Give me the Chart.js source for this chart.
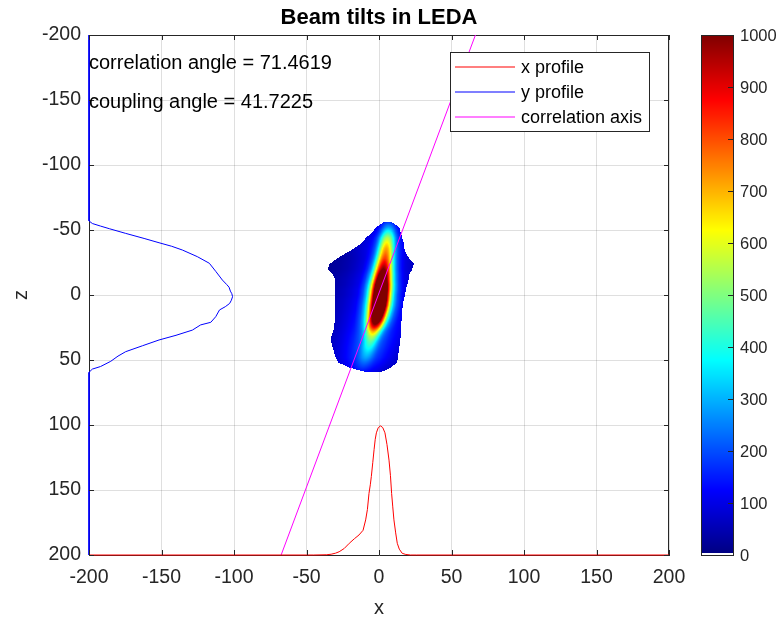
<!DOCTYPE html>
<html><head><meta charset="utf-8">
<script src="https://cdn.jsdelivr.net/npm/chart.js@4.4.0/dist/chart.umd.min.js"></script>
<style>html,body{margin:0;padding:0;background:#fff}#wrap{position:relative;width:782px;height:617px}</style>
</head><body><div id="wrap"><canvas id="c" width="782" height="617"></canvas></div>
<script>
// ---------- data ----------
const titleText = 'Beam tilts in LEDA';
const xAxisLabel = 'x';
const zAxisLabel = 'z';
const xTicks = [-200, -150, -100, -50, 0, 50, 100, 150, 200];
const zTicks = [-200, -150, -100, -50, 0, 50, 100, 150, 200];
const colorbarTicks = [0, 100, 200, 300, 400, 500, 600, 700, 800, 900, 1000];
const annotationLines = ['correlation angle = 71.4619', 'coupling angle = 41.7225'];
const annotationX = [-200, -200];
const annotationZ = [-180, -150];
const seriesNames = ['x profile', 'y profile', 'correlation axis'];
const seriesColors = ['#ff0000', '#0000ff', '#ff00ff'];

// x profile (red): x, z
const xProfileX = [-200, -45, -36, -33, -30, -27.5, -24, -20.5, -17, -13.8, -11, -9.2, -8, -6.9, -6, -5.3, -4.3, -3.4, -2.6, -1.8, -0.5, 1.1, 2.6, 4.1, 5.5, 6.9, 7.9, 8.7, 9.5, 10.3, 11.5, 12.6, 14, 16, 18.5, 21.8, 26, 200];
const xProfileZ = [200, 200, 199.8, 199.4, 198.6, 197.5, 195, 191, 187.5, 184.6, 181, 173, 165, 152.6, 146, 139.7, 129, 119, 111, 106, 102, 100.7, 102, 106, 115, 127, 139, 152.6, 163, 173, 183, 191, 195.5, 198.7, 199.6, 200, 200, 200];

// y profile (blue): x, z
const yProfileX = [-200, -200, -197.7, -192, -186, -174.7, -162, -151.7, -143, -135.6, -125.3, -117, -112.6, -108, -105, -103.4, -102.5, -101.5, -101, -101.8, -103, -106, -110, -112.6, -116, -123, -128.7, -140, -151.7, -163, -174.7, -180, -185, -192, -197.7, -200, -200];
const yProfileZ = [-200, -57, -55, -53, -51, -47.4, -43.5, -40.2, -37.5, -34.6, -29.5, -24.4, -18.2, -11.5, -8, -6, -3, -1, 1.3, 4, 6.5, 9, 11.5, 16.7, 21, 23, 27, 31, 34.6, 39, 43.6, 47, 51, 55, 57, 59.5, 200];

// correlation axis (magenta)
const corrAxisX = [-67.5, 66.5];
const corrAxisZ = [200, -200];

// beam image, one entry per row of z
const beamZ       = [-56, -52, -48, -44, -40, -36, -32, -28, -24, -20, -16, -12, -8, -4, 0, 4, 8, 12, 16, 20, 24, 28, 32, 36, 40, 44, 48, 52, 56, 59];
const beamLeft    = [3, -2, -5, -9, -12, -17, -23, -29, -34, -35.5, -32, -30, -30, -30, -30, -30, -30, -30, -30, -30.5, -31, -31.5, -33, -33, -32, -31, -30, -28, -20, -10];
const beamRight   = [9, 14, 15, 16, 17, 17.5, 18.5, 21, 24, 23, 21, 20.5, 19.5, 18.5, 18, 17, 16.5, 16, 16, 15.5, 15.5, 15, 15, 14.5, 14, 13.5, 13, 12.5, 8, 2];
const ridgeCenter = [6.5, 6.5, 6.2, 5.8, 5.4, 5.0, 4.6, 4.1, 3.6, 3.1, 2.6, 2.1, 1.7, 1.3, 0.9, 0.5, 0, -0.6, -1.3, -2.1, -3, -4, -5, -6, -7, -8, -9, -10, -11, -12];
const ridgeAmp    = [80, 170, 300, 420, 500, 570, 620, 680, 760, 850, 950, 1050, 1150, 1220, 1250, 1250, 1220, 1150, 1050, 920, 720, 500, 350, 260, 200, 150, 110, 70, 40, 20];
const ridgeWidth  = [0.7, 0.7, 0.75, 0.8, 0.8, 0.82, 0.85, 0.88, 0.9, 0.92, 0.95, 0.97, 1, 1, 1, 1, 1, 0.98, 0.95, 0.92, 0.88, 0.82, 0.78, 0.75, 0.75, 0.75, 0.75, 0.75, 0.75, 0.75];
const beamBase    = [40, 35, 30, 30, 30, 30, 25, 20, 20, 20, 25, 30, 30, 35, 35, 40, 40, 40, 40, 40, 40, 40, 40, 40, 40, 40, 40, 35, 30, 30];
const beamHalo    = [60, 80, 90, 100, 110, 115, 120, 125, 130, 135, 140, 140, 145, 150, 150, 155, 160, 165, 170, 170, 170, 170, 170, 165, 160, 150, 140, 125, 105, 85];
// cross-section of the ridge and of the halo (distance from ridge centre -> fraction)
const ridgeProfileD = [0, 1, 2, 3, 4, 5, 6, 7, 8, 9, 10, 12, 14, 16];
const ridgeProfileF = [1, 0.98, 0.93, 0.85, 0.74, 0.61, 0.48, 0.36, 0.26, 0.18, 0.12, 0.05, 0.02, 0];
const haloProfileD = [0, 5, 10, 15, 20, 25, 30, 40];
const haloProfileF = [1, 0.95, 0.8, 0.55, 0.35, 0.2, 0.1, 0];

// ---------- helpers ----------
const FONT = "'Liberation Sans', Arial, Helvetica, sans-serif";
const AX = '#262626';
function pts(xs, ys) { return xs.map((v, i) => ({ x: v, y: ys[i] })); }
function interp(xs, ys, v) {
  if (v <= xs[0]) return ys[0];
  for (let i = 1; i < xs.length; i++) {
    if (v <= xs[i]) { const t = (v - xs[i - 1]) / (xs[i] - xs[i - 1]); return ys[i - 1] + t * (ys[i] - ys[i - 1]); }
  }
  return ys[ys.length - 1];
}
function jet(t) {
  t = Math.max(0, Math.min(1, t));
  const c = v => Math.round(Math.max(0, Math.min(1, v)) * 255);
  return [c(1.5 - Math.abs(4 * t - 3)), c(1.5 - Math.abs(4 * t - 2)), c(1.5 - Math.abs(4 * t - 1))];
}

const beamPlugin = {
  id: 'beam',
  beforeDatasetsDraw(chart) {
    const xs = chart.scales.x, ys = chart.scales.y, cb = chart.scales.cb, ctx = chart.ctx;
    const xMin = Math.min(...beamLeft), xMax = Math.max(...beamRight);
    const px0 = Math.floor(xs.getPixelForValue(xMin)) - 1, px1 = Math.ceil(xs.getPixelForValue(xMax)) + 1;
    const pa = ys.getPixelForValue(beamZ[0]), pb = ys.getPixelForValue(beamZ[beamZ.length - 1]);
    const py0 = Math.floor(Math.min(pa, pb)) - 1, py1 = Math.ceil(Math.max(pa, pb)) + 1;
    const w = px1 - px0, h = py1 - py0;
    const off = document.createElement('canvas'); off.width = w; off.height = h;
    const octx = off.getContext('2d');
    const img = octx.createImageData(w, h);
    const vmax = cb.max;
    for (let j = 0; j < h; j++) {
      const z = ys.getValueForPixel(py0 + j + 0.5);
      if (z < beamZ[0] || z > beamZ[beamZ.length - 1]) continue;
      const L = interp(beamZ, beamLeft, z), R = interp(beamZ, beamRight, z);
      const cx = interp(beamZ, ridgeCenter, z), A = interp(beamZ, ridgeAmp, z), rw = interp(beamZ, ridgeWidth, z);
      const B = interp(beamZ, beamBase, z), H = interp(beamZ, beamHalo, z);
      for (let i = 0; i < w; i++) {
        const x = xs.getValueForPixel(px0 + i + 0.5);
        if (x < L || x > R) continue;
        const d = Math.abs(x - cx);
        const val = B + H * interp(haloProfileD, haloProfileF, d) + A * interp(ridgeProfileD, ridgeProfileF, d / rw);
        const col = jet(val / vmax);
        const k = (j * w + i) * 4;
        img.data[k] = col[0]; img.data[k + 1] = col[1]; img.data[k + 2] = col[2]; img.data[k + 3] = 255;
      }
    }
    octx.putImageData(img, 0, 0);
    ctx.save();
    ctx.drawImage(off, px0, py0);
    // top and right box lines
    const a = chart.chartArea;
    ctx.strokeStyle = AX; ctx.lineWidth = 1;
    ctx.beginPath();
    ctx.moveTo(a.left, Math.round(a.top) + 0.5); ctx.lineTo(a.right, Math.round(a.top) + 0.5);
    ctx.moveTo(Math.round(a.right) - 0.5, a.top); ctx.lineTo(Math.round(a.right) - 0.5, a.bottom);
    ctx.stroke();
    ctx.restore();
  },
  afterDatasetsDraw(chart) {
    const xs = chart.scales.x, ys = chart.scales.y, ctx = chart.ctx, a = chart.chartArea;
    ctx.save();
    ctx.strokeStyle = AX; ctx.lineWidth = 1;
    ctx.beginPath();
    xTicks.forEach(v => {
      const p = Math.round(xs.getPixelForValue(v)) + 0.5;
      ctx.moveTo(p, a.bottom); ctx.lineTo(p, a.bottom - 5);
      ctx.moveTo(p, a.top); ctx.lineTo(p, a.top + 5);
    });
    zTicks.forEach(v => {
      const p = Math.round(ys.getPixelForValue(v)) + 0.5;
      ctx.moveTo(a.left, p); ctx.lineTo(a.left + 5, p);
      ctx.moveTo(a.right, p); ctx.lineTo(a.right - 5, p);
    });
    ctx.stroke();
    // annotations
    ctx.fillStyle = '#000';
    ctx.font = '20px ' + FONT;
    ctx.textAlign = 'left'; ctx.textBaseline = 'middle';
    annotationLines.forEach((t, i) => ctx.fillText(t, xs.getPixelForValue(annotationX[i]), ys.getPixelForValue(annotationZ[i]) + 2));
    // legend
    const bx0 = a.right - 219, by0 = a.top + 17, bw = 199, bh = 79;
    ctx.fillStyle = '#fff';
    ctx.fillRect(bx0, by0, bw, bh);
    ctx.strokeStyle = AX;
    ctx.strokeRect(Math.round(bx0) + 0.5, Math.round(by0) + 0.5, bw, bh);
    ctx.font = '18px ' + FONT;
    seriesNames.forEach((name, i) => {
      const y = Math.round(by0 + 15 + i * 25.2);
      ctx.beginPath();
      ctx.strokeStyle = seriesColors[i]; ctx.lineWidth = 1.2;
      ctx.moveTo(bx0 + 5, y); ctx.lineTo(bx0 + 65, y);
      ctx.stroke();
      ctx.fillStyle = '#000';
      ctx.fillText(name, bx0 + 71, y + 1);
    });
    ctx.restore();
  },
  afterDraw(chart) {
    const cb = chart.scales.cb, ctx = chart.ctx, a = chart.chartArea;
    const left = a.right + 32, width = 32;
    const top = Math.round(cb.getPixelForValue(cb.max)), bottom = Math.round(cb.getPixelForValue(cb.min));
    ctx.save();
    for (let y = top; y < bottom; y++) {
      const v = cb.getValueForPixel(y + 0.5);
      const col = v < cb.max / 256 ? [255, 255, 255] : jet(v / cb.max);
      ctx.fillStyle = 'rgb(' + col.join(',') + ')';
      ctx.fillRect(left, y, width, 1);
    }
    ctx.strokeStyle = AX; ctx.lineWidth = 1;
    ctx.strokeRect(left + 0.5, top + 0.5, width, bottom - top);
    ctx.beginPath();
    colorbarTicks.forEach(v => {
      const p = Math.round(cb.getPixelForValue(v)) + 0.5;
      ctx.moveTo(left + width, p); ctx.lineTo(left + width - 5, p);
    });
    ctx.stroke();
    ctx.fillStyle = AX;
    ctx.font = '16.5px ' + FONT;
    ctx.textAlign = 'left'; ctx.textBaseline = 'middle';
    colorbarTicks.forEach(v => ctx.fillText(String(v), left + width + 7, cb.getPixelForValue(v) + 1));
    ctx.restore();
  }
};

const gridColor = 'rgba(38,38,38,0.15)';
new Chart(document.getElementById('c'), {
  type: 'scatter',
  data: {
    datasets: [
      { label: seriesNames[0], data: pts(xProfileX, xProfileZ), showLine: true, borderColor: seriesColors[0], borderWidth: 1, pointRadius: 0, fill: false, tension: 0, clip: 2 },
      { label: seriesNames[1], data: pts(yProfileX, yProfileZ), showLine: true, borderColor: seriesColors[1], borderWidth: 1, pointRadius: 0, fill: false, tension: 0, clip: 2 },
      { label: seriesNames[2], data: pts(corrAxisX, corrAxisZ), showLine: true, borderColor: seriesColors[2], borderWidth: 1, pointRadius: 0, fill: false, tension: 0 }
    ]
  },
  options: {
    responsive: false, animation: false, events: [],
    layout: { padding: { left: 0, top: 0, right: 113, bottom: 0 } },
    plugins: {
      legend: { display: false }, tooltip: { enabled: false },
      title: { display: true, text: titleText, fullSize: false, color: '#000', padding: 0,
        font: { family: FONT, size: 22, weight: 'bold', lineHeight: '35px' } }
    },
    scales: {
      x: {
        type: 'linear', min: -200, max: 200,
        afterBuildTicks: s => { s.ticks = xTicks.map(v => ({ value: v })); },
        afterFit: s => { s.height = 62; },
        grid: { color: gridColor, drawTicks: false },
        border: { color: AX, width: 1 },
        ticks: { padding: 11, color: AX, font: { family: FONT, size: 19.5 }, maxRotation: 0, autoSkip: false, callback: v => String(v) },
        title: { display: true, text: xAxisLabel, color: AX, padding: 0, font: { family: FONT, size: 20, lineHeight: '18px' } }
      },
      y: {
        type: 'linear', reverse: true, min: -200, max: 200,
        afterBuildTicks: s => { s.ticks = zTicks.map(v => ({ value: v })); },
        afterFit: s => { s.width = 89; },
        grid: { color: gridColor, drawTicks: false },
        border: { color: AX, width: 1 },
        ticks: { padding: 8, color: AX, font: { family: FONT, size: 19.5 }, autoSkip: false, callback: v => String(v) },
        title: { display: true, text: zAxisLabel, color: AX, padding: { top: 11, bottom: 0 }, font: { family: FONT, size: 20, lineHeight: '20px' } }
      },
      cb: {
        type: 'linear', axis: 'y', position: 'right', display: false, min: 0, max: 1000
      }
    }
  },
  plugins: [beamPlugin]
});
</script>
</body></html>
